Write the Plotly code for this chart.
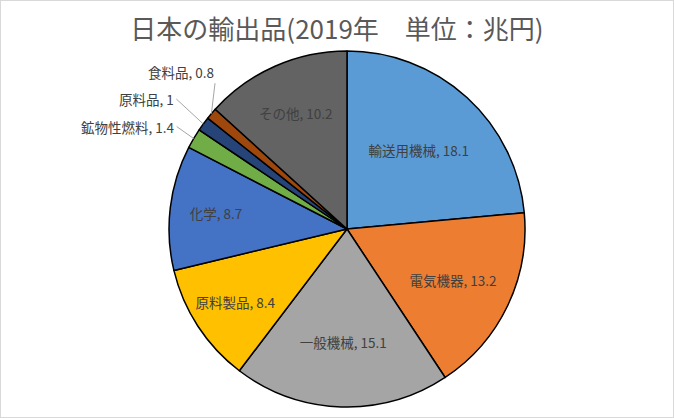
import math
import plotly.graph_objects as go

# 日本の輸出品 2019年（兆円）
labels = ['輸送用機械', '電気機器', '一般機械', '原料製品', '化学',
          '鉱物性燃料', '原料品', '食料品', 'その他']
values = [18.1, 13.2, 15.1, 8.4, 8.7, 1.4, 1, 0.8, 10.2]
colors = ['#5B9BD5', '#ED7D31', '#A5A5A5', '#FFC000', '#4472C4',
          '#70AD47', '#264478', '#9E480E', '#636363']

# small slices get an outside label with a leader line
small = ['鉱物性燃料', '原料品', '食料品']

W, H = 674, 418
FONT = 'Noto Sans CJK JP'
TEXT_COLOR = '#404040'

# pie domain in pixels
cx, cy, R = 347, 229, 178
dom_x = [(cx - R) / W, (cx + R) / W]
dom_y = [(H - cy - R) / H, (H - cy + R) / H]

texts = ['' if l in small else f'{l}, {v:g}' for l, v in zip(labels, values)]

fig = go.Figure(go.Pie(
    labels=labels,
    values=values,
    text=texts,
    textinfo='text',
    textposition='inside',
    insidetextorientation='horizontal',
    sort=False,
    direction='clockwise',
    rotation=0,
    marker=dict(colors=colors, line=dict(color='black', width=1.5)),
    textfont=dict(family=FONT, size=13.5, color=TEXT_COLOR),
    domain=dict(x=dom_x, y=dom_y),
    showlegend=False,
    hoverinfo='label+value',
))

# leader-line labels for the small slices, tips on the slice edge
total = sum(values)
label_offsets = {'鉱物性燃料': (-17, -12), '原料品': (-27, -25), '食料品': (5, -42)}
cum = 0
for l, v in zip(labels, values):
    mid = (cum + v / 2) / total * 2 * math.pi
    cum += v
    if l not in small:
        continue
    px = cx + R * math.sin(mid)
    py = cy - R * math.cos(mid)
    ax, ay = label_offsets[l]
    fig.add_annotation(
        x=px / W, y=1 - py / H, xref='paper', yref='paper',
        text=f'{l}, {v:g}', showarrow=True, arrowhead=0,
        arrowwidth=1, arrowcolor='#A6A6A6', ax=ax, ay=ay,
        xanchor='right', yanchor='middle',
        font=dict(family=FONT, size=13.5, color=TEXT_COLOR),
    )

fig.update_layout(
    width=W, height=H,
    margin=dict(l=0, r=0, t=0, b=0),
    paper_bgcolor='white',
    title=dict(text='日本の輸出品(2019年　単位：兆円)', x=0.5, xanchor='center',
               y=1 - 30 / H, yanchor='middle',
               font=dict(family=FONT, size=26, color='#595959')),
    shapes=[dict(type='rect', xref='paper', yref='paper', x0=0, y0=0, x1=1, y1=1,
                 line=dict(color='#D9D9D9', width=2))],
)

fig.write_html('out.html', config={'displayModeBar': False},
               post_script="document.body.style.margin='0';")
